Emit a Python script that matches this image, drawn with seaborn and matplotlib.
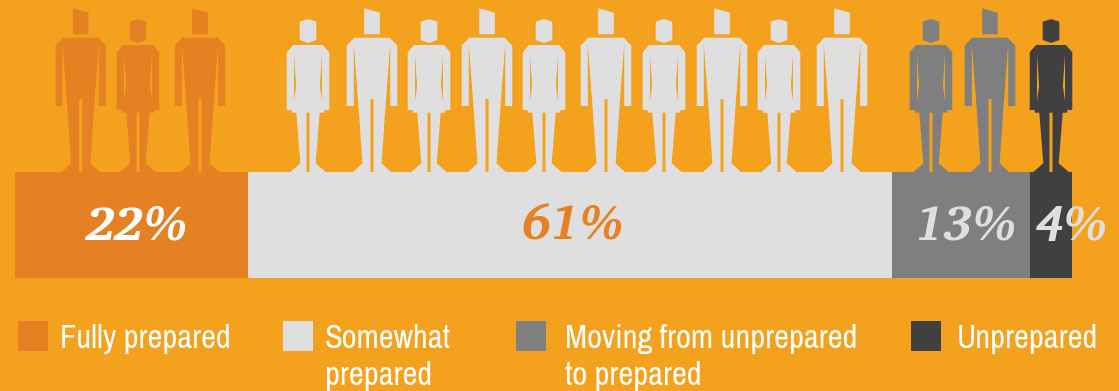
import matplotlib
matplotlib.use("Agg")
import matplotlib.pyplot as plt
from matplotlib.patches import Rectangle
import seaborn as sns

# Survey shares, one per preparedness group
categories = ["Fully prepared", "Somewhat\nprepared", "Moving from unprepared\nto prepared", "Unprepared"]
shares = [22, 61, 13, 4]
share_labels = ["22%", "61%", "13%", "4%"]
# Pictogram row: m = man, w = woman, per group
people = ["mwm", "wmwmwmwmwm", "wm", "w"]

BG = "#F4A11D"
colors = ["#E68123", "#DFDFDF", "#7F7F7F", "#404040"]
label_colors = ["#FFFFFF", "#E68123", "#DFDFDF", "#DFDFDF"]

W, H = 1119, 391
# Layout in pixels
BAR_LEFT, BAR_RIGHT, BAR_TOP, BAR_BOTTOM = 15, 1072, 172, 278
LABEL_X = [136, 572, 966, 1071]
LABEL_BASE = 240
PERSON_X = [80.7, 138, 200, 308, 372, 429, 487, 544, 606, 664, 722, 779, 842, 931, 990, 1051]
SWATCH_X = [18, 283, 516, 911]
TEXT_X = [60, 325, 565, 957]

sns.set_theme(style="white")
plt.rcParams["font.family"] = ["Archivo Narrow", "Liberation Sans", "DejaVu Sans"]

fig = plt.figure(figsize=(W / 100, H / 100), dpi=100, facecolor=BG)

# Stacked horizontal bar
bar_ax = fig.add_axes([BAR_LEFT / W, 1 - BAR_BOTTOM / H, (BAR_RIGHT - BAR_LEFT) / W, (BAR_BOTTOM - BAR_TOP) / H])
left = 0
for share, color in zip(shares, colors):
    sns.barplot(x=[share], y=["share"], left=left, color=color, saturation=1, width=1, ax=bar_ax, linewidth=0)
    left += share
bar_ax.set_xlim(0, 100)
bar_ax.axis("off")

# Overlay in pixel units for pictograms, labels and key
ax = fig.add_axes([0, 0, 1, 1], facecolor="none")
ax.set_xlim(0, W)
ax.set_ylim(H, 0)
ax.axis("off")


def mirrored(half):
    return half + [(-x, y) for x, y in reversed(half)]


# Silhouettes are relative to the figure's centre line; y is measured from the canvas top
MAN_HEAD = [(-7.8, 8.3), (7.8, 12.7), (7.8, 34.3), (-7.8, 34.3)]
MAN_BODY = mirrored([(17.8, 37.7), (25.3, 45.7), (25.3, 106), (18.2, 106), (18.2, 44),
                     (13.5, 106), (9.6, 163.3), (18.9, 172), (1.5, 172), (1.5, 99)])
WOMAN_HEAD = [(-8.3, 21.7), (0, 19), (8.3, 21.7), (8.3, 40), (0, 43), (-8.3, 40)]
WOMAN_BODY = mirrored([(15, 45), (21.3, 52.3), (21.3, 110), (16.3, 110), (16.3, 112.7), (11.7, 112.7),
                       (7.7, 163.3), (17.7, 172), (1.5, 172), (1.5, 112.7)])
WOMAN_SLIT = [(14, 54), (11.9, 86), (14, 101)]


def draw_person(kind, cx, color):
    if kind == "m":
        parts = [MAN_HEAD, MAN_BODY]
    else:
        parts = [WOMAN_HEAD, WOMAN_BODY]
    for part in parts:
        ax.fill([cx + x for x, _ in part], [y for _, y in part], color=color, lw=0)
    if kind == "w":
        for sign in (-1, 1):
            ax.fill([cx + sign * x for x, _ in WOMAN_SLIT], [y for _, y in WOMAN_SLIT], color=BG, lw=0)


centres = iter(PERSON_X)
for group, color in zip(people, colors):
    for kind in group:
        draw_person(kind, next(centres), color)

# Percentages on the bar
for x, label, color in zip(LABEL_X, share_labels, label_colors):
    ax.text(x, LABEL_BASE, label, color=color, ha="center", va="baseline", fontsize=35,
            family=["Charis SIL", "Liberation Serif"], style="italic", weight="bold")

# Key
for sx, tx, name, color in zip(SWATCH_X, TEXT_X, categories, colors):
    ax.add_patch(Rectangle((sx, 321), 30, 30, facecolor=color, lw=0))
    ax.text(tx, 348, name.split("\n")[0], color="white", fontsize=23.4, ha="left", va="baseline")
    if "\n" in name:
        ax.text(tx, 385, name.split("\n")[1], color="white", fontsize=23.4, ha="left", va="baseline")

fig.savefig("out.png", dpi=100, facecolor=BG)
